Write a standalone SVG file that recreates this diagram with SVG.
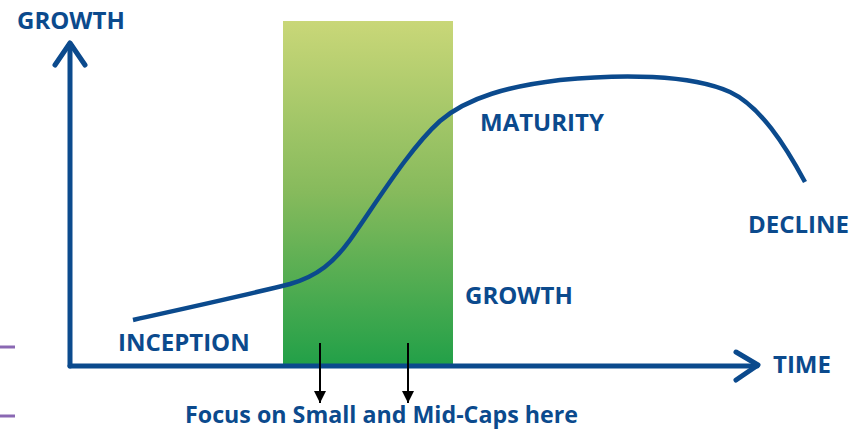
<svg xmlns="http://www.w3.org/2000/svg" width="866" height="433" viewBox="0 0 866 433">
  <defs>
    <linearGradient id="focusBand" x1="0" y1="0" x2="0" y2="1">
      <stop offset="0" stop-color="#c9d778"/>
      <stop offset="0.5" stop-color="#86ba5c"/>
      <stop offset="1" stop-color="#22a048"/>
    </linearGradient>
    <marker id="down" viewBox="0 0 12 12" refX="12" refY="6" markerWidth="12" markerHeight="12" markerUnits="userSpaceOnUse" orient="auto">
      <path d="M0,0 L12,6 L0,12 Z" fill="#000"/>
    </marker>
  </defs>
  <style>
    .lbl { font-family: "Open Sans", "Liberation Sans", sans-serif; font-weight: 700; fill: #0b4a8d; }
    .big { font-size: 24px; }
    .note { font-size: 23px; }
    .axis { fill: none; stroke: #0b4a8d; stroke-width: 5; stroke-linecap: round; stroke-linejoin: round; }
    .curve { fill: none; stroke: #0b4a8d; stroke-width: 4.5; stroke-linecap: butt; }
    .tick { stroke: #8a68b3; stroke-width: 3; }
    .pointer { stroke: #000; stroke-width: 2; }
  </style>

  <rect width="866" height="433" fill="#fff"/>

  <!-- side rule marks -->
  <line class="tick" x1="0" y1="347" x2="15" y2="347"/>
  <line class="tick" x1="0" y1="416" x2="15" y2="416"/>

  <!-- highlighted growth phase -->
  <g id="focus-band">
    <rect x="283" y="21" width="170" height="344" fill="url(#focusBand)"/>
  </g>

  <!-- axes -->
  <g id="axes">
    <path class="axis" d="M70,366 L70,44"/>
    <path class="axis" d="M55,65 L70,43 L85,65"/>
    <path class="axis" d="M70,366 L757,366"/>
    <path class="axis" d="M736,352 L758,365 L736,380"/>
  </g>

  <!-- life-cycle curve -->
  <g id="lifecycle-curve">
    <path class="curve" d="M133,320 C200,305 255,293 290,284 C318,276 334,262 350,240 C378,200 410,148 440,121 C468,97 510,86 560,80 C620,74 690,74 730,92 C760,106 785,145 805,182"/>
  </g>

  <!-- pointers to the focus note -->
  <g id="connectors">
    <line class="pointer" x1="320" y1="343" x2="320" y2="403" marker-end="url(#down)"/>
    <line class="pointer" x1="408" y1="343" x2="408" y2="403" marker-end="url(#down)"/>
  </g>

  <g id="label-growth-axis"><text class="lbl big" x="17" y="29">GROWTH</text></g>
  <g id="label-time"><text class="lbl big" x="773" y="373">TIME</text></g>
  <g id="label-inception"><text class="lbl big" x="118" y="351">INCEPTION</text></g>
  <g id="label-growth"><text class="lbl big" x="465" y="304">GROWTH</text></g>
  <g id="label-maturity"><text class="lbl big" x="480" y="131">MATURITY</text></g>
  <g id="label-decline"><text class="lbl big" x="748" y="233">DECLINE</text></g>
  <g id="label-focus"><text class="lbl note" x="185" y="423" textLength="393" lengthAdjust="spacingAndGlyphs">Focus on Small and Mid-Caps here</text></g>
</svg>
